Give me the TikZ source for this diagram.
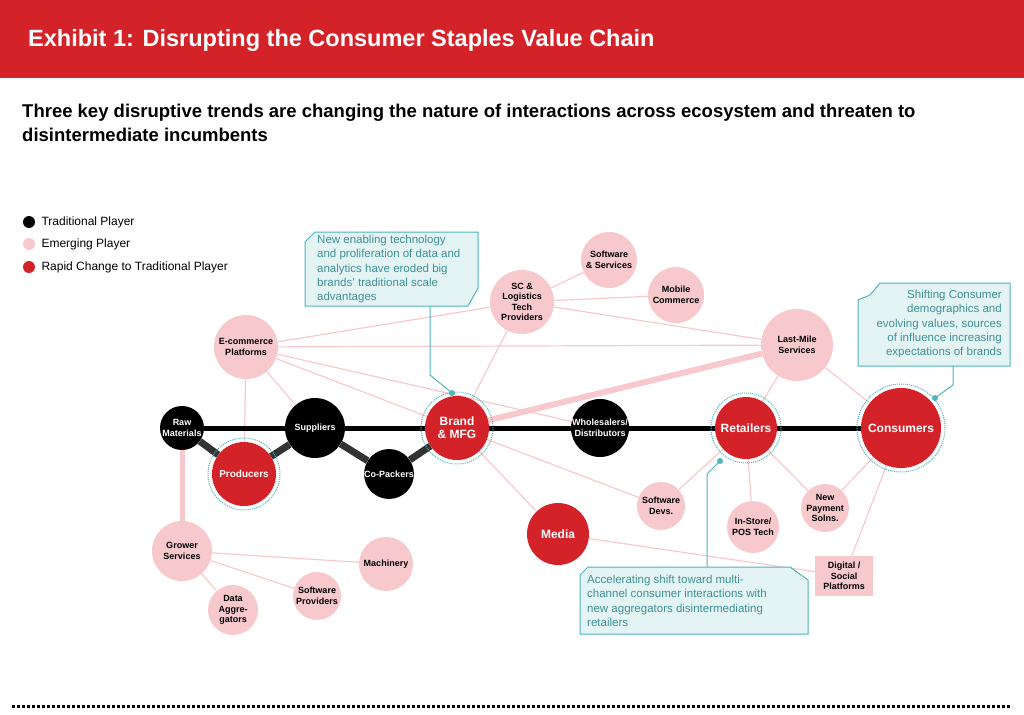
\documentclass[tikz,border=0pt]{standalone}
\usepackage{fontspec}
\setmainfont{Liberation Sans}
\usepackage{tikz}
\usetikzlibrary{calc,backgrounds}
\definecolor{rougebar}{HTML}{D42229}
\definecolor{roseclair}{HTML}{F7C9CC}
\definecolor{sarcelle}{HTML}{4FB5BA}
\definecolor{sarcellefond}{HTML}{E4F4F4}

\begin{document}
\begin{tikzpicture}[x=1pt,y=-1pt,
  trad/.style={circle,fill=black,text=white,font=\fontsize{9}{10.5}\selectfont\bfseries,align=center,inner sep=0pt},
  emer/.style={circle,fill=roseclair,text=black,font=\fontsize{9}{10.5}\selectfont\bfseries,align=center,inner sep=0pt},
  rapide/.style={circle,fill=rougebar,text=white,font=\fontsize{12}{13}\selectfont\bfseries,align=center,inner sep=0pt},
  anneau/.style={circle,draw=sarcelle,densely dotted,line width=1pt,inner sep=0pt},
  lien/.style={roseclair,line width=1.2pt},
  chaine/.style={black!80,line width=7pt},
  bulle/.style={draw=sarcelle,fill=sarcellefond,line width=1pt},
  bulletxt/.style={text=sarcelle!80!black,font=\fontsize{11.5}{14.3}\selectfont,align=left,inner sep=0pt}]
  \useasboundingbox (0,0) rectangle (1024,714);
  % header
  \fill[rougebar] (0,0) rectangle (1024,78);
  \node[anchor=west,text=white,font=\fontsize{23.5}{28}\selectfont\bfseries,inner sep=0pt] (titre) at (28,40) {Exhibit 1: Disrupting the Consumer Staples Value Chain};
  \node[anchor=north west,align=left,font=\fontsize{18.5}{24}\selectfont\bfseries,inner sep=0pt] (soustitre) at (22,104)
    {Three key disruptive trends are changing the nature of interactions across ecosystem and threaten to\\disintermediate incumbents};
  % legend
  \fill[black] (29,222) circle (6);
  \fill[roseclair] (29,244) circle (6);
  \fill[rougebar] (29,267) circle (6);
  \node[anchor=west,font=\fontsize{12}{14}\selectfont] (leg1) at (38,222) {Traditional Player};
  \node[anchor=west,font=\fontsize{12}{14}\selectfont] (leg2) at (38,244) {Emerging Player};
  \node[anchor=west,font=\fontsize{12}{14}\selectfont] (leg3) at (38,267) {Rapid Change to Traditional Player};

  % value chain
  \node[trad,minimum size=44] (raw) at (182,428) {Raw\\Materials};
  \node[rapide,minimum size=64,font=\fontsize{10}{11}\selectfont\bfseries] (prod) at (244,474) {Producers};
  \node[trad,minimum size=60] (supp) at (315,428) {Suppliers};
  \node[trad,minimum size=48] (copack) at (389,474) {Co-Packers};
  \node[rapide,minimum size=64] (brand) at (457,428) {Brand\\\& MFG};
  \node[trad,minimum size=58] (whole) at (600,428) {Wholesalers/\\Distributors};
  \node[rapide,minimum size=62] (retail) at (746,428) {Retailers};
  \node[rapide,minimum size=80] (cons) at (901,428) {Consumers};
  % emerging players
  \node[emer,minimum size=64] (ecom) at (246,347) {E-commerce\\Platforms};
  \node[emer,minimum size=64] (sclog) at (522,302) {SC \&\\Logistics\\Tech\\Providers};
  \node[emer,minimum size=56] (softserv) at (609,260) {Software\\\& Services};
  \node[emer,minimum size=56] (mobile) at (676,295) {Mobile\\Commerce};
  \node[emer,minimum size=72] (lastmile) at (797,345) {Last-Mile\\Services};
  \node[rapide,minimum size=62] (media) at (558,534) {Media};
  \node[emer,minimum size=48] (softdev) at (661,506) {Software\\Devs.};
  \node[emer,minimum size=52] (instore) at (753,527) {In-Store/\\POS Tech};
  \node[emer,minimum size=48] (payment) at (825,508) {New\\Payment\\Solns.};
  \node[emer,rectangle,minimum width=58,minimum height=40] (digital) at (844,576) {Digital /\\Social\\Platforms};
  \node[emer,minimum size=60] (grower) at (182,551) {Grower\\Services};
  \node[emer,minimum size=54] (mach) at (386,564) {Machinery};
  \node[emer,minimum size=48] (softprov) at (317,596) {Software\\Providers};
  \node[emer,minimum size=50] (data) at (233,610) {Data\\Aggre-\\gators};
  % dotted rings
  \node[anneau,minimum size=72] (ringprod) at (prod) {};
  \node[anneau,minimum size=72] (ringbrand) at (brand) {};
  \node[anneau,minimum size=70] (ringretail) at (retail) {};
  \node[anneau,minimum size=88] (ringcons) at (cons) {};

  % connectors
  \begin{scope}[on background layer]
  \foreach \a/\b in {ecom/prod,ecom/supp,ecom/brand,ecom/whole,ecom/sclog,ecom/lastmile,
      brand/sclog,brand/media,brand/softdev,sclog/softserv,sclog/mobile,sclog/lastmile,
      lastmile/retail,lastmile/cons,retail/softdev,retail/instore,retail/payment,
      cons/payment,cons/digital,media/digital,grower/mach,grower/softprov,grower/data}
    \draw[lien] (\a) -- (\b);
  \draw[roseclair,line width=6pt] (brand) -- (lastmile);
  \draw[roseclair,line width=5pt] (raw) -- (grower);
  \draw[black,line width=5pt] (raw) -- (cons);
  \foreach \a/\b in {raw/prod,prod/supp,supp/copack,copack/brand}
    \draw[chaine] (\a) -- (\b);
  \end{scope}

  % callouts
  \draw[bulle] (315,232) -- (478,232) -- (478,288) -- (468,306) -- (305,306) -- (305,242) -- cycle;
  \node[bulletxt,anchor=north west] (bulle1) at (317,235) {New enabling technology\\and proliferation of data and\\analytics have eroded big\\brands' traditional scale\\advantages};
  \coordinate (pt1) at (452,393);
  \draw[sarcelle,line width=1pt] (430,306) -- (430,375) -- (pt1);
  \fill[sarcelle] (pt1) circle (3);

  \draw[bulle] (880,283) -- (1010,283) -- (1010,366) -- (858,366) -- (858,300) -- (870,295) -- cycle;
  \node[bulletxt,anchor=north east,align=right] (bulle2) at (1002,290) {Shifting Consumer\\demographics and\\evolving values, sources\\of influence increasing\\expectations of brands};
  \coordinate (pt2) at (935,398);
  \draw[sarcelle,line width=1pt] (953,366) -- (953,385) -- (pt2);
  \fill[sarcelle] (pt2) circle (3);

  \draw[bulle] (588,567) -- (790,567) -- (808,580) -- (808,634) -- (580,634) -- (580,575) -- cycle;
  \node[bulletxt,anchor=north west] (bulle3) at (587,575) {Accelerating shift toward multi-\\channel consumer interactions with\\new aggregators disintermediating\\retailers};
  \coordinate (pt3) at (720,461);
  \draw[sarcelle,line width=1pt] (707,567) -- (707,474) -- (pt3);
  \fill[sarcelle] (pt3) circle (3);

  % bottom rule
  \draw[black,line width=3pt,dash pattern=on 2.5pt off 2.5pt] (12,706) -- (1012,706);
\end{tikzpicture}
\end{document}
